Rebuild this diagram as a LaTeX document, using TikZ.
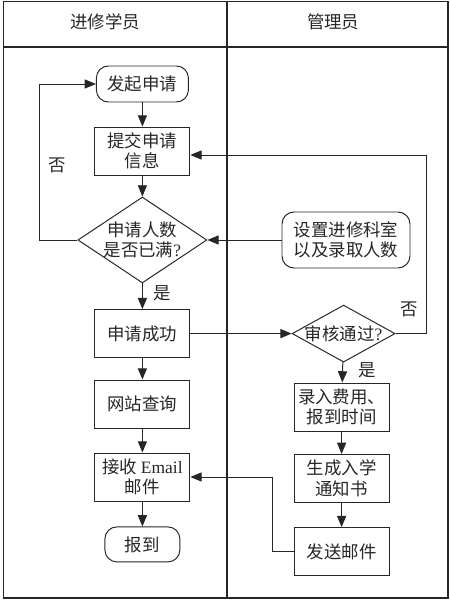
\documentclass[tikz,border=0pt]{standalone}
\usepackage{fontspec}
\setmainfont{Liberation Serif}
\newfontfamily\cjk{Noto Sans CJK SC}
\usetikzlibrary{arrows.meta,shapes.geometric}
\tikzset{>={Triangle[length=8pt,width=6.5pt]}}
\tikzset{%
    every node/.style={font=\cjk\fontsize{12.4}{14.5}\selectfont, text=black!85},
    stepbox/.style={draw, rectangle, minimum width=2.375cm, minimum height=1.2cm, align=center, inner sep=1pt},
    termbox/.style={draw, rectangle, rounded corners=0.3cm, minimum height=0.9cm, align=center},
    choice/.style={draw, diamond, align=center, inner sep=-1pt},
    flow/.style={->, line width=0.7pt}
}

\begin{document}
\begin{tikzpicture}[line width=0.7pt, draw=black!85]
\useasboundingbox (0,0) rectangle (11.25,15);
\draw[line width=0.9pt] (0.08,0.05) rectangle (11.2,14.97);
\draw[line width=0.9pt] (0.08,13.825) -- (11.2,13.825);
\draw[line width=0.9pt] (5.675,0.05) -- (5.675,14.97);

\node (laneA) at (2.625,14.45) {进修学员};
\node (laneB) at (8.33,14.45) {管理员};

\node[termbox, minimum width=2.3cm] (start) at (3.56,12.9) {发起申请};
\node[stepbox] (submit) at (3.56,11.225) {提交申请\\信息};
\node[choice, aspect=1.5, minimum width=3.225cm, minimum height=2.15cm] (full) at (3.56,9.0) {申请人数\\是否已满\textrm{?}};
\node[stepbox] (success) at (3.56,6.66) {申请成功};
\node[stepbox] (web) at (3.56,4.9) {网站查询};
\node[stepbox] (email) at (3.56,3.075) {接收 \textrm{Email}\\邮件};
\node[termbox, minimum width=1.875cm, minimum height=0.875cm] (finish) at (3.56,1.39) {报到};

\node[termbox, minimum width=3.2cm, minimum height=1.4cm] (setup) at (8.65,9.0) {设置进修科室\\以及录取人数};
\node[choice, aspect=1.8, inner sep=-2pt, minimum width=2.575cm, minimum height=1.425cm] (check) at (8.59,6.66) {审核通过\textrm{?}};
\node[stepbox] (fee) at (8.54,4.825) {录入费用、\\报到时间};
\node[stepbox] (notice) at (8.54,3.04) {生成入学\\通知书};
\node[stepbox] (send) at (8.54,1.21) {发送邮件};

\coordinate (lloop) at (0.975,9.0);
\coordinate (rloop) at (10.65,11.125);
\coordinate (mloop) at (6.8,3.075);

\draw[flow] (start) -- (submit);
\draw[flow] (submit) -- (full);
\draw[flow] (full) -- (success);
\draw[flow] (success) -- (web);
\draw[flow] (web) -- (email);
\draw[flow] (email) -- (finish);
\draw[flow] (full.west) -- (lloop) |- (start.west);

\draw[flow] (setup) -- (full);
\draw[flow] (success) -- (check);
\draw[flow] (check.east) -| (rloop) -- (submit.east |- rloop);
\draw[flow] (check) -- (fee);
\draw[flow] (fee) -- (notice);
\draw[flow] (notice) -- (send);
\draw[flow] (send.west) -| (mloop) -- (email.east);

\node (noA) at (1.425,10.875) {否};
\node (yesA) at (4.05,7.675) {是};
\node (noB) at (10.23,7.275) {否};
\node (yesB) at (9.17,5.75) {是};
\end{tikzpicture}
\end{document}
